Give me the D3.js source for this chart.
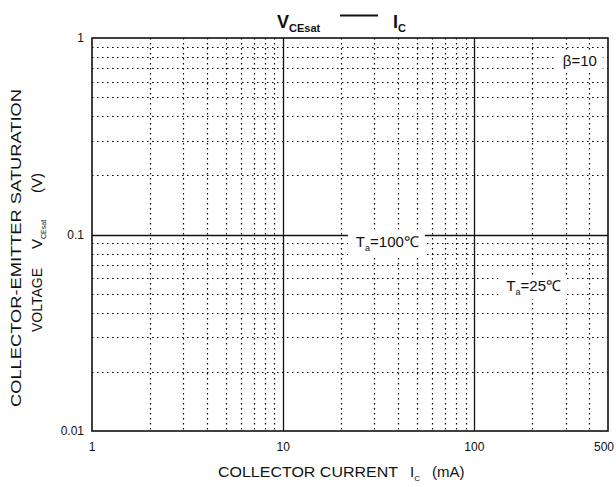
<!DOCTYPE html>
<html>
<head>
<meta charset="utf-8">
<script src="https://cdn.jsdelivr.net/npm/d3@7"></script>
<style>
  body { margin: 0; background: #fff; }
  text { font-family: "Liberation Sans", Arial, sans-serif; fill: #111; }
</style>
</head>
<body>
<svg id="chart"></svg>
<script>
var width = 616, height = 487;
var margin = { top: 38, right: 6, bottom: 56, left: 92 };

// grid values
var xMajor = [10, 100];
var xMinor = [2, 3, 4, 5, 6, 7, 8, 9, 20, 30, 40, 50, 60, 70, 80, 90, 200, 300, 400];
var yMajor = [0.1];
var yMinor = [0.02, 0.03, 0.04, 0.05, 0.06, 0.07, 0.08, 0.09,
              0.2, 0.3, 0.4, 0.5, 0.6, 0.7, 0.8, 0.9];
var xTickLabels = [1, 10, 100, 500];
var yTickLabels = [1, 0.1, 0.01];

// annotation labels (in data coordinates)
var notes = [
  { main: "β=10", sub: "", rest: "", x: 290, y: 0.72 },
  { main: "T", sub: "a", rest: "=100℃", x: 24, y: 0.0864 },
  { main: "T", sub: "a", rest: "=25℃", x: 147, y: 0.0516 }
];

var svg = d3.select("#chart").attr("width", width).attr("height", height);

var x = d3.scaleLog()
  .domain([1, 500])
  .range([margin.left, width - margin.right - 2]);
var y = d3.scaleLog()
  .domain([0.01, 1])
  .range([height - margin.bottom, margin.top]);

var grid = svg.append("g");

// dotted minor grid
grid.selectAll(".vminor").data(xMinor).enter().append("line")
  .attr("x1", function(d) { return Math.round(x(d)) + 0.5; })
  .attr("x2", function(d) { return Math.round(x(d)) + 0.5; })
  .attr("y1", y(1)).attr("y2", y(0.01))
  .attr("stroke", "#000").attr("stroke-width", 1.2)
  .attr("stroke-dasharray", "1.5,3.5");

grid.selectAll(".hminor").data(yMinor).enter().append("line")
  .attr("y1", function(d) { return Math.round(y(d)) + 0.5; })
  .attr("y2", function(d) { return Math.round(y(d)) + 0.5; })
  .attr("x1", x(1)).attr("x2", x(500))
  .attr("stroke", "#000").attr("stroke-width", 1.2)
  .attr("stroke-dasharray", "1.5,3.5");

// solid decade lines
grid.selectAll(".vmajor").data(xMajor).enter().append("line")
  .attr("x1", function(d) { return Math.round(x(d)) + 0.5; })
  .attr("x2", function(d) { return Math.round(x(d)) + 0.5; })
  .attr("y1", y(1)).attr("y2", y(0.01))
  .attr("stroke", "#111").attr("stroke-width", 1.3);

grid.selectAll(".hmajor").data(yMajor).enter().append("line")
  .attr("y1", function(d) { return Math.round(y(d)) + 0.5; })
  .attr("y2", function(d) { return Math.round(y(d)) + 0.5; })
  .attr("x1", x(1)).attr("x2", x(500))
  .attr("stroke", "#111").attr("stroke-width", 1.3);

// frame
svg.append("rect")
  .attr("x", x(1)).attr("y", y(1))
  .attr("width", x(500) - x(1)).attr("height", y(0.01) - y(1))
  .attr("fill", "none").attr("stroke", "#111").attr("stroke-width", 1.6);

// tick labels
svg.selectAll(".xt").data(xTickLabels).enter().append("text")
  .attr("x", function(d) { return d === 500 ? x(d) - 4 : x(d); })
  .attr("y", y(0.01) + 20)
  .attr("text-anchor", "middle")
  .attr("font-size", 12)
  .text(function(d) { return d; });

svg.selectAll(".yt").data(yTickLabels).enter().append("text")
  .attr("x", x(1) - 8)
  .attr("y", function(d) { return y(d) + 4; })
  .attr("text-anchor", "end")
  .attr("font-size", 12)
  .text(function(d) { return d; });

// annotations with white backing
notes.forEach(function(n) {
  var g = svg.append("g");
  var t = g.append("text")
    .attr("x", x(n.x)).attr("y", y(n.y))
    .attr("font-size", 15);
  t.append("tspan").text(n.main);
  if (n.sub) {
    t.append("tspan").attr("font-size", 9).attr("dy", 4).text(n.sub);
    t.append("tspan").attr("dy", -4).text(n.rest);
  }
  var b = t.node().getBBox();
  g.insert("rect", "text")
    .attr("x", b.x - 8).attr("y", b.y - 2)
    .attr("width", b.width + 14).attr("height", b.height + 4)
    .attr("fill", "#fff");
});

// title
var title = svg.append("text")
  .attr("x", 277).attr("y", 28)
  .attr("font-size", 18).attr("font-weight", "bold");
title.append("tspan").text("V");
title.append("tspan").attr("font-size", 11).attr("dy", 4).text("CEsat");
svg.append("line")
  .attr("x1", 340).attr("x2", 378).attr("y1", 15.5).attr("y2", 15.5)
  .attr("stroke", "#111").attr("stroke-width", 2);
var title2 = svg.append("text")
  .attr("x", 393).attr("y", 28)
  .attr("font-size", 18).attr("font-weight", "bold");
title2.append("tspan").text("I");
title2.append("tspan").attr("font-size", 11).attr("dy", 4).text("C");

// x axis title
var xt = svg.append("text")
  .attr("x", 218).attr("y", 477)
  .attr("font-size", 15);
xt.append("tspan").attr("textLength", 180).attr("lengthAdjust", "spacingAndGlyphs")
  .text("COLLECTOR CURRENT");
xt.append("tspan").attr("x", 410).text("I");
xt.append("tspan").attr("font-size", 8).attr("dy", 4).text("C");
xt.append("tspan").attr("x", 432).attr("dy", -4).text("(mA)");

// y axis title
var yg = svg.append("g").attr("transform", "translate(21,247) rotate(-90)");
yg.append("text")
  .attr("x", -160)
  .attr("font-size", 15)
  .attr("textLength", 318).attr("lengthAdjust", "spacingAndGlyphs")
  .text("COLLECTOR-EMITTER SATURATION");
var yl2 = yg.append("text")
  .attr("y", 21)
  .attr("font-size", 15);
yl2.append("tspan").attr("x", -85).attr("textLength", 64).attr("lengthAdjust", "spacingAndGlyphs").text("VOLTAGE");
yl2.append("tspan").attr("x", -2).text("V");
yl2.append("tspan").attr("font-size", 7).attr("dy", 4).text("CEsat");
yl2.append("tspan").attr("x", 54).attr("dy", -4).text("(V)");
</script>
</body>
</html>
